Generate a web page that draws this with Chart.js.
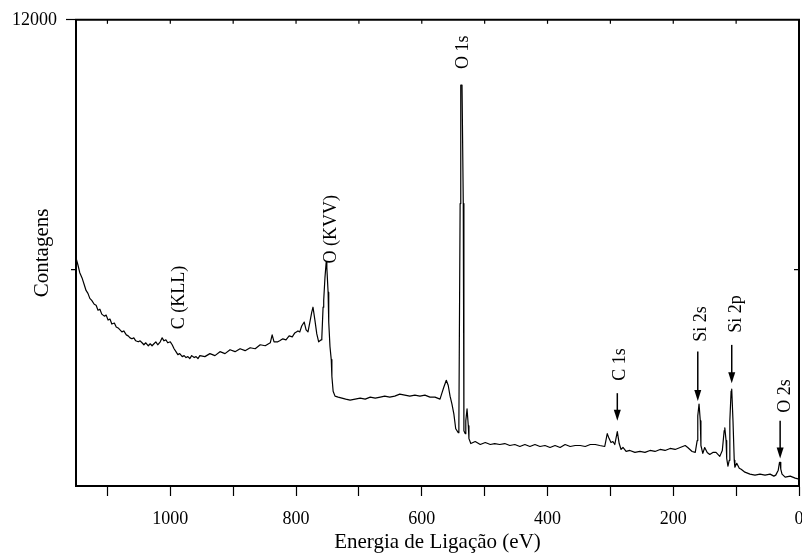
<!DOCTYPE html>
<html lang="pt">
<head>
  <meta charset="UTF-8">
  <title>Espectro XPS</title>
  <script src="https://cdn.jsdelivr.net/npm/chart.js"></script>
  <style>
    html, body { margin: 0; padding: 0; background: #fff; }
    #wrap { width: 802px; height: 557px; }
  </style>
</head>
<body>
  <div id="wrap"><canvas id="xpsChart" width="802" height="557"></canvas></div>

  <script>
    const energy = [
      1150, 1147, 1144, 1140, 1137, 1134, 1131, 1128, 1125, 1121, 1118, 1115, 1112, 1109, 1105, 1102,
      1099, 1096, 1093, 1089, 1086, 1083, 1080, 1077, 1074, 1070, 1067, 1064, 1061, 1058, 1055, 1051,
      1048, 1045, 1042, 1039, 1035, 1032, 1029, 1026, 1023, 1020, 1016, 1013, 1010, 1007, 1004, 1000,
      997, 994, 991, 988, 985, 981, 978, 975, 972, 969, 966, 962, 959, 956, 953, 945,
      937, 929, 921, 913, 905, 897, 889, 881, 873, 865, 857, 849, 841, 838, 835, 829,
      826, 821, 816, 811, 806, 802, 797, 794, 791, 787, 784, 781, 778, 775, 773, 770,
      767, 764, 760, 759, 757, 756, 754, 752, 751, 749, 748, 746, 744, 743, 741, 738,
      733, 727, 721, 714, 706, 698, 690, 682, 674, 666, 659, 651, 643, 635, 627, 619,
      611, 603, 595, 587, 579, 571, 568, 565, 561, 558, 555, 552, 549, 546, 542, 541,
      539, 538, 536, 534, 533, 531, 530, 528, 526, 525, 522, 515, 507, 499, 491, 484,
      476, 468, 460, 452, 444, 436, 428, 420, 412, 404, 396, 388, 380, 372, 364, 356,
      348, 340, 332, 324, 317, 309, 305, 302, 299, 296, 293, 289, 286, 283, 280, 275,
      269, 261, 253, 245, 237, 229, 221, 213, 205, 197, 189, 181, 177, 170, 165, 162,
      161, 159, 157, 156, 153, 150, 146, 142, 137, 132, 129, 126, 122, 119, 118, 116,
      115, 113, 111, 110, 108, 107, 105, 103, 102, 99, 95, 92, 86, 78, 70, 62,
      54, 46, 40, 37, 33, 31, 30, 29, 27, 22, 14, 6, 0
    ];
    const counts = [
      6280, 6115, 5925, 5783, 5641, 5498, 5427, 5308, 5261, 5166, 5142, 5024, 5047, 4929, 4881, 4905,
      4786, 4810, 4691, 4715, 4620, 4597, 4549, 4502, 4525, 4430, 4407, 4359, 4336, 4359, 4288, 4264,
      4288, 4241, 4193, 4241, 4169, 4217, 4169, 4217, 4264, 4193, 4264, 4359, 4288, 4312, 4241, 4264,
      4193, 4098, 4027, 3956, 3980, 3908, 3932, 3885, 3908, 3861, 3932, 3885, 3908, 3861, 3932, 3908,
      3980, 3932, 4027, 3980, 4074, 4027, 4098, 4051, 4122, 4098, 4193, 4169, 4241, 4430, 4264, 4264,
      4288, 4336, 4312, 4407, 4383, 4478, 4525, 4502, 4644, 4739, 4549, 4502, 4739, 4976, 5095, 4786,
      4454, 4264, 4312, 4359, 5095, 5261, 5807, 6186, 6044, 5451, 4739, 4146, 3837, 3434, 3078, 2959,
      2936, 2912, 2888, 2864, 2888, 2912, 2888, 2936, 2912, 2936, 2959, 2936, 2959, 3007, 2983, 2959,
      2983, 2959, 2983, 2936, 2936, 2888, 3030, 3173, 3339, 3220, 2959, 2769, 2532, 2176, 2081, 2247,
      7586, 10434, 10434, 7586, 2129, 2058, 2366, 2651, 2247, 1939, 1820, 1868, 1797, 1844, 1797, 1820,
      1797, 1820, 1773, 1797, 1749, 1797, 1749, 1797, 1749, 1773, 1725, 1773, 1725, 1797, 1749, 1773,
      1773, 1749, 1797, 1797, 1773, 1749, 2058, 1939, 1844, 1868, 1797, 2105, 1820, 1678, 1725, 1630,
      1654, 1607, 1630, 1607, 1654, 1630, 1678, 1654, 1702, 1678, 1725, 1773, 1725, 1630, 1607, 1891,
      2485, 2769, 2366, 1773, 1583, 1725, 1607, 1559, 1607, 1607, 1559, 1512, 1654, 2129, 2200, 1891,
      1464, 1275, 1417, 2366, 3078, 3125, 2366, 1417, 1251, 1346, 1227, 1203, 1132, 1085, 1061, 1085,
      1061, 1085, 1037, 1061, 1180, 1370, 1369, 1203, 1085, 1013, 1037, 990, 966
    ];

    const xTickValues = [0, 100, 200, 300, 400, 500, 600, 700, 800, 900, 1000, 1100];
    const yTickValues = [6000, 12000];

    // rótulos dos picos (posição em eV / contagens), com seta opcional
    const peakLabels = [
      { text: 'C (KLL)', e: 985, c: 5330 },
      { text: 'O (KVV)', e: 744, c: 6970 },
      { text: 'O 1s', e: 534, c: 11220 },
      { text: 'C 1s', e: 285, c: 3720, arrowE: 289, from: 3030, to: 2370 },
      { text: 'Si 2s', e: 156, c: 4690, arrowE: 161, from: 4030, to: 2840 },
      { text: 'Si 2p', e: 100, c: 4930, arrowE: 107, from: 4190, to: 3270 },
      { text: 'O 2s', e: 22, c: 2960, arrowE: 30, from: 2370, to: 1460 }
    ];

    const serif = '"Liberation Serif", "Times New Roman", serif';

    const framePlugin = {
      id: 'frame',
      afterDraw(chart) {
        const ctx = chart.ctx;
        const a = chart.chartArea;
        const xs = chart.scales.x;
        const ys = chart.scales.y;
        ctx.save();
        ctx.strokeStyle = '#000';
        ctx.fillStyle = '#000';

        // top and right frame
        ctx.lineWidth = 2;
        ctx.beginPath();
        ctx.moveTo(a.left - 1, a.top);
        ctx.lineTo(a.right, a.top);
        ctx.lineTo(a.right, a.bottom + 1);
        ctx.stroke();

        // inward ticks on top axis
        ctx.lineWidth = 1.2;
        xTickValues.forEach(v => {
          const px = xs.getPixelForValue(v);
          ctx.beginPath();
          ctx.moveTo(px, a.top);
          ctx.lineTo(px, a.top + 4);
          ctx.stroke();
        });

        // minor tick at 6000, both sides
        const py = ys.getPixelForValue(6000);
        ctx.beginPath();
        ctx.moveTo(a.left - 5, py);
        ctx.lineTo(a.left, py);
        ctx.moveTo(a.right, py);
        ctx.lineTo(a.right - 5, py);
        ctx.stroke();

        // y title
        ctx.font = '21px ' + serif;
        ctx.textAlign = 'center';
        ctx.textBaseline = 'middle';
        ctx.save();
        ctx.translate(a.left - 34, (a.top + a.bottom) / 2);
        ctx.rotate(-Math.PI / 2);
        ctx.fillText('Contagens', 0, 0);
        ctx.restore();

        // peak labels and arrows
        ctx.font = '18px ' + serif;
        peakLabels.forEach(p => {
          const tx = xs.getPixelForValue(p.e);
          const ty = ys.getPixelForValue(p.c);
          ctx.save();
          ctx.translate(tx, ty);
          ctx.rotate(-Math.PI / 2);
          ctx.fillText(p.text, 0, 0);
          ctx.restore();
          if (p.arrowE !== undefined) {
            const ax = xs.getPixelForValue(p.arrowE);
            const y1 = ys.getPixelForValue(p.from);
            const y2 = ys.getPixelForValue(p.to);
            ctx.lineWidth = 1.5;
            ctx.beginPath();
            ctx.moveTo(ax, y1);
            ctx.lineTo(ax, y2 - 9);
            ctx.stroke();
            ctx.beginPath();
            ctx.moveTo(ax - 3.5, y2 - 11);
            ctx.lineTo(ax + 3.5, y2 - 11);
            ctx.lineTo(ax, y2);
            ctx.closePath();
            ctx.fill();
          }
        });
        ctx.restore();
      }
    };

    const ctx = document.getElementById('xpsChart').getContext('2d');
    new Chart(ctx, {
      type: 'line',
      data: {
        datasets: [{
          label: 'XPS',
          data: energy.map((e, i) => ({ x: e, y: counts[i] })),
          borderColor: '#000',
          borderWidth: 1.2,
          borderJoinStyle: 'round',
          pointRadius: 0,
          tension: 0,
          fill: false
        }]
      },
      options: {
        responsive: false,
        animation: false,
        layout: { padding: { top: 14, right: 3, left: 0, bottom: 0 } },
        plugins: {
          legend: { display: false },
          tooltip: { enabled: false }
        },
        scales: {
          x: {
            type: 'linear',
            reverse: true,
            min: 0,
            max: 1150,
            afterBuildTicks: s => { s.ticks = xTickValues.map(v => ({ value: v })); },
            afterFit: s => { s.height = 71; s.paddingLeft = 0; s.paddingRight = 0; },
            border: { display: true, color: '#000', width: 2 },
            grid: { drawOnChartArea: false, drawTicks: true, tickLength: 10, color: '#000', tickWidth: 1.2 },
            ticks: {
              autoSkip: false,
              maxRotation: 0,
              padding: 12,
              color: '#000',
              font: { family: serif, size: 18 },
              callback: v => (v % 200 === 0 ? String(v) : '')
            },
            title: {
              display: true,
              text: 'Energia de Ligação (eV)',
              color: '#000',
              font: { family: serif, size: 21 },
              padding: { top: 2, bottom: 2 }
            }
          },
          y: {
            min: 800,
            max: 12000,
            afterBuildTicks: s => { s.ticks = yTickValues.map(v => ({ value: v })); },
            afterFit: s => { s.width = 76; },
            border: { display: true, color: '#000', width: 2 },
            grid: {
              drawOnChartArea: false,
              drawTicks: true,
              tickLength: 10,
              tickWidth: 1.2,
              tickColor: c => (c.tick && c.tick.value === 12000 ? '#000' : 'rgba(0,0,0,0)')
            },
            ticks: {
              padding: 9,
              color: '#000',
              font: { family: serif, size: 18 },
              callback: v => (v === 12000 ? '12000' : '')
            }
          }
        }
      },
      plugins: [framePlugin]
    });
  </script>
</body>
</html>
